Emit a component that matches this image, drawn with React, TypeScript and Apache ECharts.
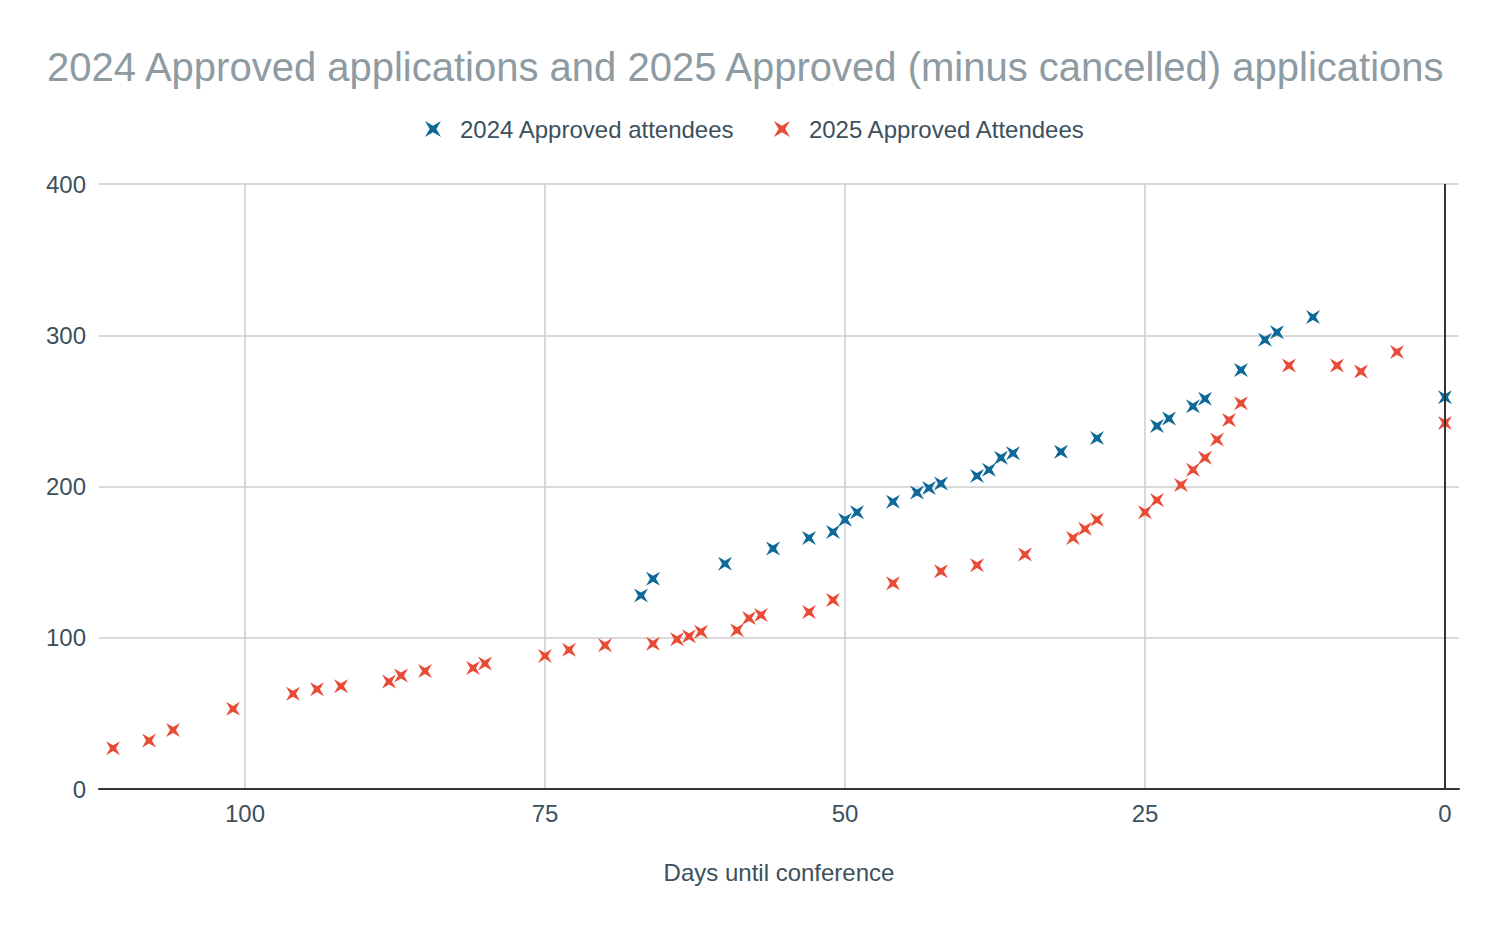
import React, { useEffect, useRef } from "react";
import * as echarts from "echarts";

const TITLE = "2024 Approved applications and 2025 Approved (minus cancelled) applications";
const SERIES_2024 = "2024 Approved attendees";
const SERIES_2025 = "2025 Approved Attendees";
const X_NAME = "Days until conference";

const xTicks = [0, 25, 50, 75, 100];

const days2024 = [67, 66, 60, 56, 53, 51, 50, 49, 46, 44, 43, 42, 39, 38, 37, 36, 32, 29, 24, 23, 21, 20, 17, 15, 14, 11, 0];
const values2024 = [128, 139, 149, 159, 166, 170, 178, 183, 190, 196, 199, 202, 207, 211, 219, 222, 223, 232, 240, 245, 253, 258, 277, 297, 302, 312, 259];

const days2025 = [111, 108, 106, 101, 96, 94, 92, 88, 87, 85, 81, 80, 75, 73, 70, 66, 64, 63, 62, 59, 58, 57, 53, 51, 46, 42, 39, 35, 31, 30, 29, 25, 24, 22, 21, 20, 19, 18, 17, 13, 9, 7, 4, 0];
const values2025 = [27, 32, 39, 53, 63, 66, 68, 71, 75, 78, 80, 83, 88, 92, 95, 96, 99, 101, 104, 105, 113, 115, 117, 125, 136, 144, 148, 155, 166, 172, 178, 183, 191, 201, 211, 219, 231, 244, 255, 280, 280, 276, 289, 242];

const STAR = "path://M0,0L5,2.9L10,0L7.1,5L10,10L5,7.1L0,10L2.9,5Z";
const BLUE = "#0e6898";
const RED = "#e84c37";
const TEXT = "#3c505d";
const FONT = "'Liberation Sans', Arial, sans-serif";

export default function App() {
  const ref = useRef<HTMLDivElement>(null);
  useEffect(() => {
    const chart = echarts.init(ref.current!, undefined, { renderer: "svg" });
    chart.setOption({
      animation: false,
      backgroundColor: "#ffffff",
      textStyle: { fontFamily: FONT },
      title: {
        text: TITLE,
        left: 47,
        top: 47,
        padding: 0,
        textStyle: { fontSize: 40, fontWeight: "normal", color: "#8e9ba3", fontFamily: FONT },
      },
      legend: {
        left: 425,
        top: 117,
        padding: 0,
        itemWidth: 44,
        itemHeight: 16,
        itemGap: 39,
        symbolKeepAspect: true,
        textStyle: { fontSize: 24, color: TEXT, fontFamily: FONT },
        data: [
          { name: SERIES_2024, icon: STAR },
          { name: SERIES_2025, icon: STAR },
        ],
      },
      grid: { left: 99, right: 47, top: 184, bottom: 143 },
      xAxis: {
        type: "value",
        inverse: true,
        min: -1.17,
        max: 112.17,
        name: X_NAME,
        nameLocation: "middle",
        nameGap: 71,
        nameTextStyle: { fontSize: 24, color: TEXT, fontFamily: FONT },
        axisLine: { show: true, onZero: false, lineStyle: { color: "#333333", width: 2 } },
        axisTick: { show: false, customValues: xTicks },
        axisLabel: { customValues: xTicks, fontSize: 24, color: TEXT, margin: 12, fontFamily: FONT },
        splitLine: { show: true, lineStyle: { color: "#cccccc", width: 1.5 } },
      },
      yAxis: {
        type: "value",
        min: 0,
        max: 400,
        interval: 100,
        axisLine: { show: false },
        axisTick: { show: false },
        axisLabel: { fontSize: 24, color: TEXT, margin: 13, fontFamily: FONT },
        splitLine: { show: true, lineStyle: { color: "#cccccc", width: 1.5 } },
      },
      series: [
        {
          type: "scatter",
          name: "zero",
          data: [],
          z: 1,
          silent: true,
          markLine: {
            silent: true,
            symbol: "none",
            label: { show: false },
            lineStyle: { color: "#333333", width: 2, type: "solid" },
            data: [{ xAxis: 0 }],
          },
        },
        {
          type: "scatter",
          name: SERIES_2024,
          symbol: STAR,
          symbolSize: 14,
          z: 3,
          itemStyle: { color: BLUE, opacity: 1 },
          data: days2024.map((d, i) => [d, values2024[i]]),
        },
        {
          type: "scatter",
          name: SERIES_2025,
          symbol: STAR,
          symbolSize: 14,
          z: 3,
          itemStyle: { color: RED, opacity: 1 },
          data: days2025.map((d, i) => [d, values2025[i]]),
        },
      ],
    });
    return () => chart.dispose();
  }, []);
  return (
    <div
      ref={ref}
      style={{ position: "fixed", left: 0, top: 0, width: 1506, height: 932, background: "#fff" }}
    />
  );
}
